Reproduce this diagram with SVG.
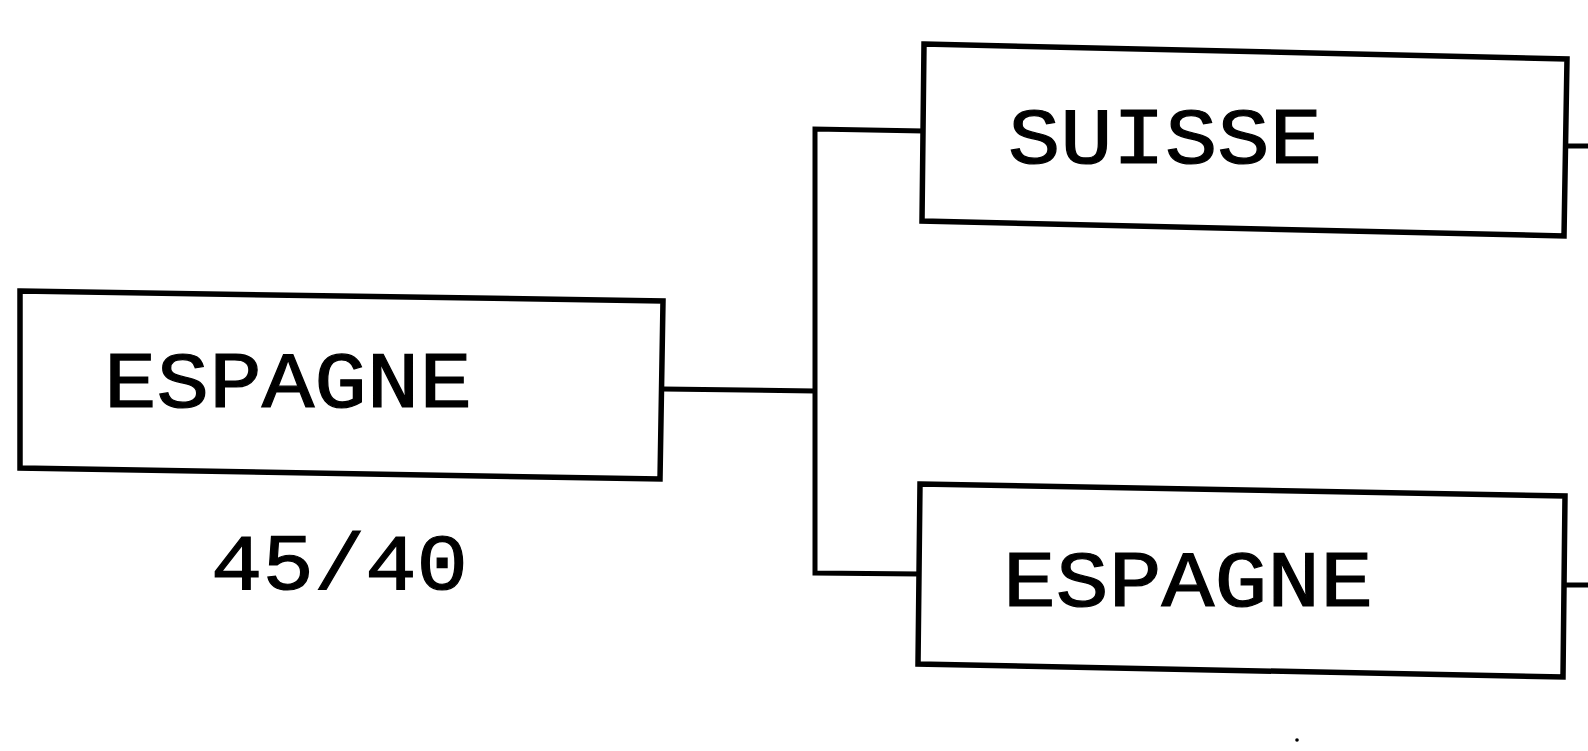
<svg xmlns="http://www.w3.org/2000/svg" width="1588" height="751" viewBox="0 0 1588 751">
<style>
.box{fill:#fff;stroke:#000;stroke-width:5.5;stroke-linejoin:miter}
.wire{fill:none;stroke:#000;stroke-width:5}
.lbl{font-family:"Liberation Mono","DejaVu Sans Mono",monospace;font-size:80px;fill:#000;stroke:#000;stroke-width:1.2}
</style>
<rect width="1588" height="751" fill="#fff"/>
<g id="connectors">
<path class="wire" d="M663,389 L815,391"/>
<path class="wire" d="M924,131 L815,129 L815,573 L920,574"/>
<path class="wire" d="M1566,146 L1588,146"/>
<path class="wire" d="M1564,585 L1588,585"/>
</g>
<g id="node-espagne-left">
<path class="box" d="M20,291 L663,301 L660,479 L20,468 Z"/>
<text class="lbl" x="104" y="407" textLength="368" lengthAdjust="spacingAndGlyphs">ESPAGNE</text>
</g>
<g id="score">
<text class="lbl" x="211" y="589" textLength="257" lengthAdjust="spacingAndGlyphs">45/40</text>
</g>
<g id="node-suisse">
<path class="box" d="M924,44 L1567,59 L1564,236 L922,221 Z"/>
<text class="lbl" x="1008" y="163" textLength="314" lengthAdjust="spacingAndGlyphs">SUISSE</text>
</g>
<g id="node-espagne-right">
<path class="box" d="M920,484 L1565,496 L1563,677 L918,664 Z"/>
<text class="lbl" x="1003" y="606" textLength="370" lengthAdjust="spacingAndGlyphs">ESPAGNE</text>
</g>
<circle cx="1297" cy="740" r="1.8" fill="#000"/>
</svg>
